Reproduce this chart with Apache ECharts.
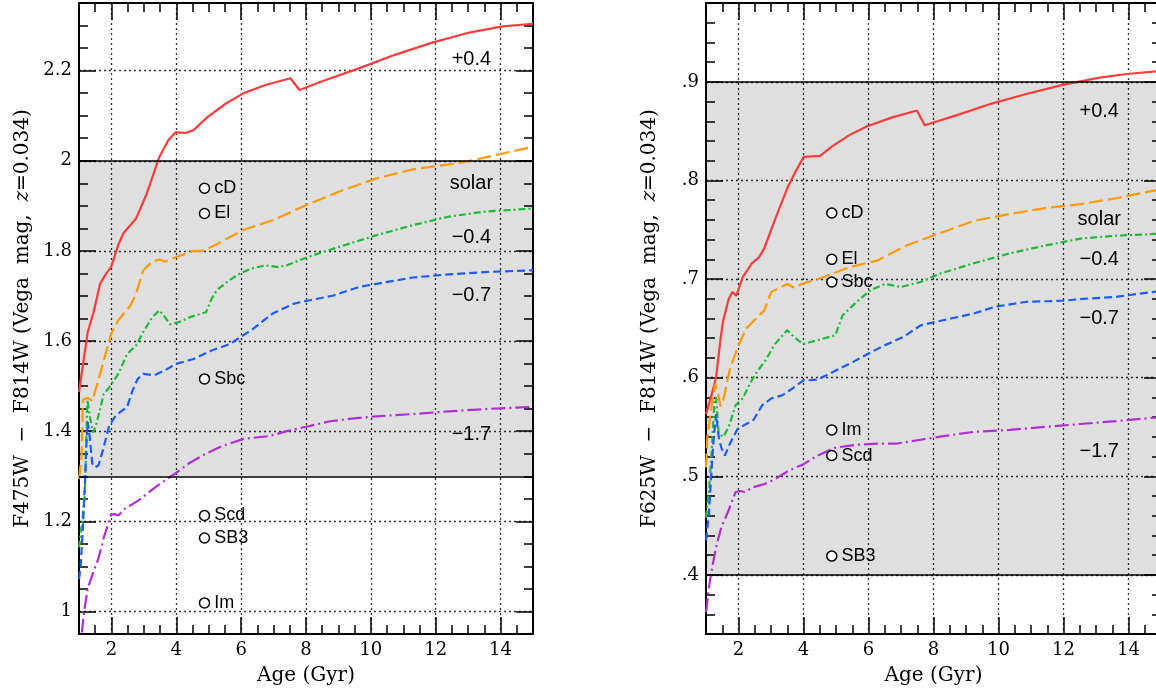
<!DOCTYPE html>
<html>
<head>
<meta charset="utf-8">
<script src="https://cdn.jsdelivr.net/npm/echarts@6/dist/echarts.min.js"></script>
</head>
<body style="margin:0">
<div id="main" style="width:1156px;height:694px;"></div>
<script>
// model colour tracks, [age (Gyr), colour]
var f475Plus04 = [[1.0,1.487],[1.27,1.62],[1.45,1.664],[1.65,1.727],[1.82,1.748],[1.87,1.746],[1.99,1.764],[2.21,1.813],[2.37,1.839],[2.76,1.872],[3.09,1.927],[3.48,2.009],[3.76,2.046],[3.98,2.063],[4.31,2.062],[4.53,2.068],[4.98,2.098],[5.53,2.127],[6.08,2.15],[6.75,2.168],[7.52,2.183],[7.80,2.157],[8.52,2.177],[9.63,2.205],[10.74,2.235],[11.84,2.261],[12.95,2.283],[14.06,2.298],[15.0,2.304]];
var f475Solar = [[1.0,1.294],[1.08,1.345],[1.12,1.47],[1.27,1.474],[1.41,1.467],[1.65,1.527],[1.99,1.616],[2.21,1.646],[2.59,1.679],[2.76,1.705],[2.98,1.757],[3.26,1.776],[3.48,1.781],[3.65,1.776],[3.87,1.783],[4.53,1.80],[4.81,1.80],[5.20,1.813],[6.08,1.847],[6.97,1.868],[7.96,1.90],[9.07,1.933],[10.18,1.961],[11.29,1.981],[12.62,1.994],[12.95,1.998],[14.06,2.016],[15.0,2.031]];
var f475Minus04 = [[1.0,1.142],[1.10,1.201],[1.18,1.26],[1.21,1.341],[1.26,1.47],[1.30,1.467],[1.34,1.43],[1.43,1.397],[1.52,1.412],[1.65,1.449],[1.76,1.482],[1.93,1.497],[2.21,1.527],[2.48,1.571],[2.76,1.59],[2.98,1.62],[3.26,1.653],[3.48,1.668],[3.65,1.653],[3.81,1.637],[4.09,1.642],[4.42,1.653],[4.92,1.664],[5.09,1.694],[5.25,1.713],[5.64,1.735],[5.97,1.75],[6.31,1.761],[6.75,1.768],[7.14,1.764],[7.41,1.768],[8.08,1.787],[9.07,1.81],[10.18,1.835],[11.29,1.857],[12.40,1.876],[13.50,1.887],[15.0,1.894]];
var f475Minus07 = [[1.0,1.072],[1.05,1.098],[1.12,1.187],[1.19,1.298],[1.23,1.372],[1.27,1.42],[1.32,1.394],[1.41,1.328],[1.49,1.32],[1.60,1.324],[1.76,1.364],[1.93,1.412],[2.10,1.431],[2.26,1.442],[2.48,1.453],[2.65,1.49],[2.81,1.516],[2.98,1.527],[3.31,1.524],[3.65,1.535],[3.98,1.549],[4.53,1.56],[5.09,1.579],[5.64,1.593],[6.31,1.624],[6.97,1.661],[7.63,1.683],[8.08,1.69],[8.85,1.701],[9.63,1.72],[10.18,1.727],[11.29,1.741],[12.40,1.748],[13.50,1.753],[15.0,1.757]];
var f475Minus17 = [[1.0,0.90],[1.08,0.948],[1.16,1.001],[1.27,1.052],[1.45,1.089],[1.60,1.118],[1.76,1.163],[1.99,1.215],[2.10,1.216],[2.21,1.213],[2.43,1.229],[2.65,1.238],[2.87,1.248],[3.20,1.267],[3.53,1.285],[3.98,1.307],[4.42,1.33],[4.86,1.348],[5.42,1.367],[6.08,1.383],[6.86,1.389],[7.41,1.40],[8.08,1.411],[8.74,1.422],[9.41,1.428],[10.18,1.433],[11.29,1.438],[12.40,1.444],[13.50,1.449],[15.0,1.454]];

var f625Plus04 = [[1.0,0.563],[1.15,0.58],[1.31,0.6],[1.45,0.64],[1.53,0.658],[1.70,0.68],[1.82,0.687],[1.93,0.683],[2.13,0.702],[2.41,0.716],[2.63,0.722],[2.79,0.731],[3.12,0.76],[3.50,0.792],[3.77,0.81],[4.01,0.824],[4.51,0.825],[4.86,0.834],[5.41,0.846],[5.96,0.855],[6.73,0.864],[7.49,0.871],[7.73,0.856],[8.70,0.866],[9.79,0.878],[10.88,0.888],[11.98,0.897],[13.07,0.904],[13.94,0.908],[15.0,0.911]];
var f625Solar = [[1.0,0.509],[1.04,0.539],[1.15,0.566],[1.28,0.594],[1.37,0.584],[1.45,0.571],[1.53,0.577],[1.75,0.611],[2.02,0.634],[2.24,0.65],[2.57,0.661],[2.79,0.668],[3.01,0.687],[3.50,0.695],[3.72,0.691],[3.94,0.695],[4.54,0.701],[5.42,0.712],[6.29,0.719],[7.16,0.734],[8.15,0.746],[9.24,0.759],[10.34,0.766],[11.43,0.772],[12.53,0.776],[13.62,0.782],[14.83,0.79],[15.0,0.791]];
var f625Minus04 = [[1.0,0.458],[1.09,0.485],[1.17,0.522],[1.26,0.577],[1.31,0.58],[1.39,0.543],[1.53,0.54],[1.70,0.55],[1.91,0.572],[2.13,0.579],[2.35,0.594],[2.57,0.606],[2.84,0.618],[3.12,0.634],[3.50,0.648],[3.72,0.641],[3.99,0.634],[4.43,0.638],[4.98,0.643],[5.20,0.663],[5.64,0.677],[6.07,0.689],[6.51,0.695],[7.00,0.692],[7.60,0.697],[8.15,0.705],[9.24,0.716],[10.34,0.726],[11.43,0.734],[12.53,0.741],[13.62,0.744],[15.0,0.746]];
var f625Minus07 = [[1.0,0.435],[1.09,0.462],[1.17,0.506],[1.24,0.54],[1.31,0.563],[1.39,0.54],[1.47,0.529],[1.58,0.521],[1.75,0.534],[1.97,0.548],[2.24,0.553],[2.46,0.557],[2.73,0.572],[3.01,0.579],[3.34,0.582],[3.66,0.589],[3.99,0.597],[4.43,0.598],[4.98,0.607],[5.53,0.616],[5.97,0.624],[6.51,0.633],[7.06,0.641],[7.60,0.653],[8.26,0.658],[9.24,0.665],[9.90,0.672],[10.88,0.677],[11.98,0.678],[12.63,0.68],[13.62,0.682],[15.0,0.688]];
var f625Minus17 = [[1.0,0.362],[1.09,0.387],[1.17,0.404],[1.31,0.428],[1.47,0.448],[1.69,0.465],[1.91,0.484],[2.05,0.485],[2.19,0.484],[2.46,0.489],[2.79,0.492],[3.12,0.497],[3.56,0.506],[3.99,0.512],[4.43,0.521],[4.98,0.529],[5.64,0.532],[6.29,0.533],[6.84,0.533],[7.60,0.537],[8.15,0.54],[9.24,0.545],[10.34,0.547],[11.43,0.55],[12.53,0.553],[13.62,0.556],[15.0,0.56]];

// observed galaxy colours (open circles)
var galaxyNames = ['cD', 'El', 'Sbc', 'Scd', 'SB3', 'Im'];
var galaxyAge = 4.87;
var f475Galaxies = [1.939, 1.883, 1.516, 1.213, 1.163, 1.019];
var f625Galaxies = [0.767, 0.72, 0.697, 0.521, 0.419, 0.547];

// metallicity labels next to the tracks
var metalNames = ['+0.4', 'solar', '\u22120.4', '\u22120.7', '\u22121.7'];
var metalLabelAge = 13.1;
var f475MetalY = [2.224, 1.950, 1.830, 1.701, 1.393];
var f625MetalY = [0.870, 0.760, 0.720, 0.660, 0.525];

// grey band (colour range) per panel
var f475Band = [1.3, 2.0];
var f625Band = [0.4, 0.9];

var ageRange = [1, 15];
var f475Range = [0.95, 2.35];
var f625Range = [0.34, 0.98];

var trackStyles = [
    {color: '#ff3d3d', type: 'solid'},
    {color: '#ff9a00', type: [14, 5]},
    {color: '#22b83a', type: [7, 3, 2, 3]},
    {color: '#1f5cff', type: [8, 4]},
    {color: '#b02ed4', type: [14, 4, 2, 4]}
];

var serif = 'DejaVu Serif';
var sans = 'Liberation Sans';

var myChart = echarts.init(document.getElementById('main'));

function makeAxis(opt) {
    var ax = {
        type: 'value',
        gridIndex: opt.grid,
        position: opt.position,
        min: opt.range[0],
        max: opt.range[1],
        splitNumber: opt.split,
        axisLine: {show: true, onZero: false, lineStyle: {color: '#000', width: 2}},
        axisTick: {show: true, inside: true, length: 17, lineStyle: {color: '#000', width: 1.5}},
        minorTick: {show: true, splitNumber: opt.minor, length: 9, lineStyle: {color: '#000', width: 1.5}},
        splitLine: {show: false},
        axisLabel: {show: false}
    };
    if (opt.main) {
        ax.axisLabel = {
            show: true, showMinLabel: false, showMaxLabel: false,
            color: '#000', fontFamily: serif, fontSize: 18, margin: 7,
            formatter: opt.fmt
        };
        ax.splitLine = {
            show: true, showMinLine: false, showMaxLine: false,
            lineStyle: {color: '#333', width: 1.3, type: [2, 3]}
        };
        ax.name = opt.name;
        ax.nameLocation = 'middle';
        ax.nameGap = opt.nameGap;
        ax.nameRotate = opt.nameRotate;
        ax.nameTextStyle = {
            color: '#000', fontFamily: serif, fontSize: 20,
            rich: {
                a: {fontFamily: serif, fontSize: 20, color: '#000'},
                i: {fontFamily: serif, fontSize: 20, color: '#000', fontStyle: 'italic'}
            }
        };
    }
    return ax;
}

var sp = '\u00a0';
function yTitle(band) {
    return '{a|' + band + sp + '\u2212' + sp + ' F814W' + sp + '(Vega' + sp + ' mag,' + sp + ' }{i|z}{a|=0.034)}';
}

var xAxes = [], yAxes = [];
[0, 1].forEach(function (g) {
    xAxes.push(makeAxis({grid: g, position: 'bottom', range: ageRange, split: 7, minor: 4, main: true,
        name: 'Age (Gyr)', nameGap: 32, nameRotate: 0}));
    xAxes.push(makeAxis({grid: g, position: 'top', range: ageRange, split: 7, minor: 4}));
});
yAxes.push(makeAxis({grid: 0, position: 'left', range: f475Range, split: 7, minor: 4, main: true,
    name: yTitle('F475W '), nameGap: 46, nameRotate: 90}));
yAxes.push(makeAxis({grid: 0, position: 'right', range: f475Range, split: 7, minor: 4}));
yAxes.push(makeAxis({grid: 1, position: 'left', range: f625Range, split: 6, minor: 5, main: true,
    name: yTitle('F625W '), nameGap: 46, nameRotate: 90,
    fmt: function (v) { return String(v).replace(/^0\./, '.'); }}));
yAxes.push(makeAxis({grid: 1, position: 'right', range: f625Range, split: 6, minor: 5}));

var series = [];
function addPanel(g, tracks, galaxies, metalY, band) {
    var xi = g * 2, yi = g * 2;
    tracks.forEach(function (d, k) {
        series.push({
            type: 'line', xAxisIndex: xi, yAxisIndex: yi, data: d,
            symbol: 'none', clip: true, z: 3, silent: true,
            lineStyle: {color: trackStyles[k].color, type: trackStyles[k].type, width: 2.2}
        });
    });
    series.push({
        type: 'scatter', xAxisIndex: xi, yAxisIndex: yi, z: 5, silent: true,
        data: galaxies.map(function (v, i) { return {value: [galaxyAge, v], name: galaxyNames[i]}; }),
        symbol: 'circle', symbolSize: 10,
        itemStyle: {color: '#fff', borderColor: '#000', borderWidth: 1.5, opacity: 1},
        label: {show: true, position: 'right', distance: 4, formatter: '{b}',
            color: '#000', fontFamily: sans, fontSize: 18}
    });
    series.push({
        type: 'scatter', xAxisIndex: xi, yAxisIndex: yi, z: 1, silent: true,
        data: metalY.map(function (v, i) { return {value: [metalLabelAge, v], name: metalNames[i]}; }),
        symbolSize: 0,
        itemStyle: {opacity: 1},
        label: {show: true, position: 'inside', formatter: '{b}',
            color: '#000', fontFamily: sans, fontSize: 20},
        markArea: {
            silent: true,
            itemStyle: {color: 'rgba(0,0,0,0.125)'},
            data: [[{yAxis: band[0]}, {yAxis: band[1]}]]
        },
        markLine: {
            silent: true, symbol: 'none', label: {show: false},
            lineStyle: {color: '#000', width: 1.5, type: 'solid'},
            data: [{yAxis: band[0]}, {yAxis: band[1]}]
        }
    });
}
addPanel(0, [f475Plus04, f475Solar, f475Minus04, f475Minus07, f475Minus17], f475Galaxies, f475MetalY, f475Band);
addPanel(1, [f625Plus04, f625Solar, f625Minus04, f625Minus07, f625Minus17], f625Galaxies, f625MetalY, f625Band);

var option = {
    animation: false,
    backgroundColor: '#fff',
    grid: [
        {left: 79, top: 3, width: 454, height: 631, outerBoundsMode: 'none'},
        {left: 706, top: 3, width: 455, height: 631, outerBoundsMode: 'none'}
    ],
    xAxis: xAxes,
    yAxis: yAxes,
    series: series
};
myChart.setOption(option);
</script>
</body>
</html>
